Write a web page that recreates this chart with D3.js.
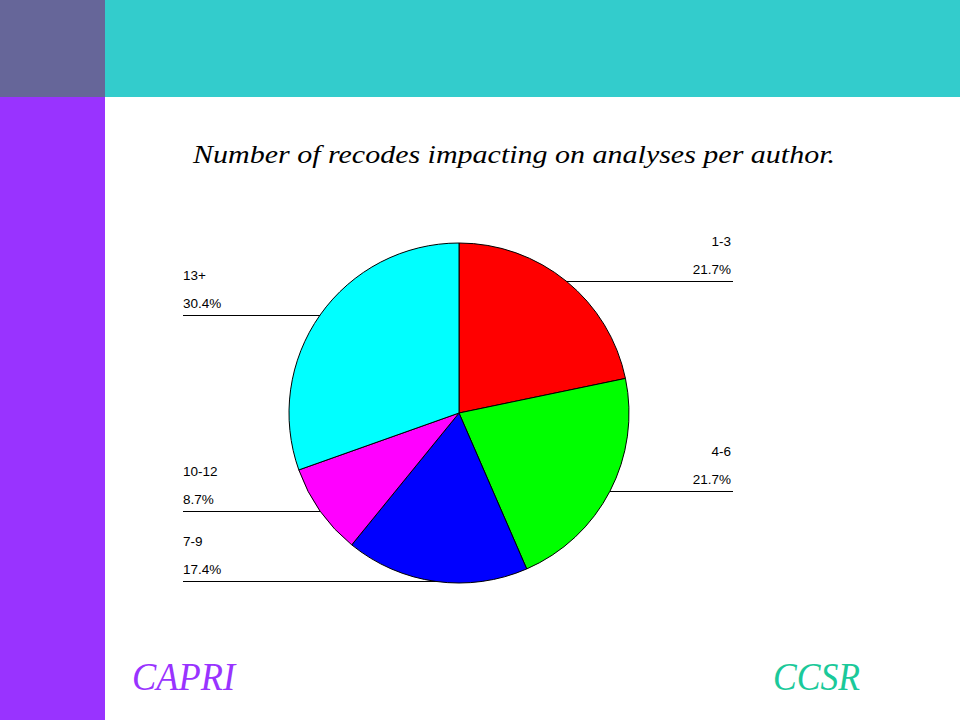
<!DOCTYPE html>
<html>
<head>
<meta charset="utf-8">
<script src="https://cdn.jsdelivr.net/npm/d3@7"></script>
<style>
  html, body { margin: 0; padding: 0; background: #fff; }
  svg { display: block; }
</style>
</head>
<body>
<svg id="chart" width="960" height="720"></svg>
<script>
// ---- data ----
const categories = ["1-3", "4-6", "7-9", "10-12", "13+"];
const counts = [5, 5, 4, 2, 7];
const sliceColors = ["#FF0000", "#00FF00", "#0000FF", "#FF00FF", "#00FFFF"];
const title = "Number of recodes impacting on analyses per author.";
const footerLeft = "CAPRI";
const footerRight = "CCSR";

const svg = d3.select("#chart");

// ---- slide background ----
svg.append("rect").attr("x", 0).attr("y", 0).attr("width", 960).attr("height", 720).attr("fill", "#fff");
svg.append("rect").attr("x", 105).attr("y", 0).attr("width", 855).attr("height", 97).attr("fill", "#33CCCC");
svg.append("rect").attr("x", 0).attr("y", 0).attr("width", 105).attr("height", 97).attr("fill", "#666699");
svg.append("rect").attr("x", 0).attr("y", 97).attr("width", 105).attr("height", 623).attr("fill", "#9933FF");

// ---- title ----
svg.append("text")
  .attr("x", 514).attr("y", 163)
  .attr("text-anchor", "middle")
  .attr("font-family", "'Liberation Serif', 'DejaVu Serif', serif")
  .attr("font-style", "italic")
  .attr("font-size", 25)
  .attr("textLength", 642)
  .attr("lengthAdjust", "spacingAndGlyphs")
  .attr("fill", "#000")
  .text(title);

// ---- pie ----
const cx = 459, cy = 413, r = 170;
const total = d3.sum(counts);
const pct = d3.format(".1%");
const pie = d3.pie().sort(null).value(d => d)(counts);
const arc = d3.arc().innerRadius(0).outerRadius(r);

const g = svg.append("g").attr("transform", `translate(${cx},${cy})`);
g.selectAll("path.slice")
  .data(pie)
  .join("path")
  .attr("class", "slice")
  .attr("d", arc)
  .attr("fill", (d, i) => sliceColors[i])
  .attr("stroke", "#000")
  .attr("stroke-width", 1);

// ---- leader lines and labels ----
const leftX = 183, rightX = 733;
const lab = svg.append("g")
  .attr("font-family", "'Liberation Sans', Arial, sans-serif")
  .attr("font-size", 13.5)
  .attr("fill", "#000");

pie.forEach((d, i) => {
  const mid = (d.startAngle + d.endAngle) / 2;
  const px = cx + r * Math.sin(mid);
  const py = Math.round(cy - r * Math.cos(mid)) + 0.5;
  const right = Math.sin(mid) > 0;
  const ex = right ? rightX : leftX;
  lab.append("line")
    .attr("x1", px).attr("y1", py)
    .attr("x2", ex).attr("y2", py)
    .attr("stroke", "#000").attr("stroke-width", 1);
  const anchor = right ? "end" : "start";
  lab.append("text")
    .attr("x", right ? rightX - 2 : leftX)
    .attr("y", py - 36)
    .attr("text-anchor", anchor)
    .text(categories[i]);
  lab.append("text")
    .attr("x", right ? rightX - 2 : leftX)
    .attr("y", py - 8)
    .attr("text-anchor", anchor)
    .text(pct(counts[i] / total));
});

// ---- footer ----
svg.append("text")
  .attr("x", 132).attr("y", 690)
  .attr("font-family", "'Liberation Serif', serif")
  .attr("font-style", "italic")
  .attr("font-size", 40)
  .attr("textLength", 103)
  .attr("lengthAdjust", "spacingAndGlyphs")
  .attr("fill", "#9933FF")
  .text(footerLeft);
svg.append("text")
  .attr("x", 773).attr("y", 690)
  .attr("font-family", "'Liberation Serif', serif")
  .attr("font-style", "italic")
  .attr("font-size", 40)
  .attr("textLength", 87)
  .attr("lengthAdjust", "spacingAndGlyphs")
  .attr("fill", "#1BC99A")
  .text(footerRight);
</script>
</body>
</html>
